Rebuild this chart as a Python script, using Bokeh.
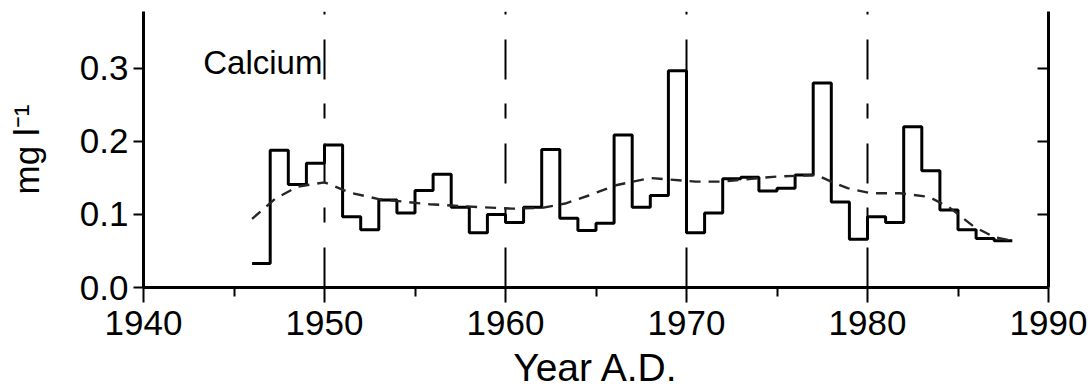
from bokeh.plotting import figure
from bokeh.models import LinearAxis, FixedTicker, Range1d, Label, PrintfTickFormatter
from bokeh.embed import file_html
from bokeh.resources import INLINE

# ---- data ----
year_edges = list(range(1946, 1989))  # annual bins 1946..1988
calcium = [0.033, 0.188, 0.141, 0.170, 0.195, 0.097, 0.079, 0.120, 0.102, 0.133,
           0.155, 0.110, 0.075, 0.100, 0.089, 0.110, 0.189, 0.095, 0.078, 0.088,
           0.209, 0.110, 0.126, 0.297, 0.075, 0.102, 0.149, 0.151, 0.132, 0.136,
           0.154, 0.280, 0.117, 0.066, 0.097, 0.089, 0.220, 0.160, 0.106, 0.079,
           0.067, 0.064]
trend_year = [1946.0, 1947.3, 1948.5, 1950.0, 1951.4, 1953.0, 1955.8, 1958.6, 1960.4,
              1962.0, 1963.3, 1964.6, 1966.1, 1968.0, 1970.5, 1972.0, 1973.6, 1975.0,
              1977.2, 1978.0, 1978.9, 1980.2, 1981.8, 1983.4, 1984.5, 1985.9, 1987.0,
              1988.0]
trend = [0.094, 0.122, 0.138, 0.144, 0.130, 0.121, 0.114, 0.110, 0.108,
         0.109, 0.115, 0.126, 0.140, 0.150, 0.145, 0.145, 0.149, 0.152,
         0.154, 0.145, 0.136, 0.129, 0.129, 0.124, 0.110, 0.083, 0.069,
         0.064]
x_major = [1940, 1950, 1960, 1970, 1980, 1990]
x_minor = [1945, 1955, 1965, 1975, 1985]
grid_years = [1950, 1960, 1970, 1980]
y_major = [0.0, 0.1, 0.2, 0.3]
series_label = "Calcium"
x_title = "Year A.D."
y_title = "mg l\u207b\u00b9"

FONT = "Liberation Sans"

p = figure(width=1091, height=392, x_range=Range1d(1940, 1990), y_range=Range1d(0, 0.378),
           output_backend="svg", toolbar_location=None,
           min_border_left=143, min_border_right=43, min_border_top=11, min_border_bottom=105)
p.outline_line_color = None
p.background_fill_color = "white"
p.border_fill_color = "white"

# x axis
xa = p.xaxis[0]
xa.ticker = FixedTicker(ticks=x_major, minor_ticks=x_minor)
xa.major_tick_out = 15
xa.major_tick_in = 0
xa.minor_tick_out = 9
xa.minor_tick_in = 0
xa.axis_line_width = 3
xa.major_tick_line_width = 2
xa.minor_tick_line_width = 2
xa.major_label_text_font = FONT
xa.major_label_text_font_size = "35px"
xa.major_label_text_color = "black"
xa.major_label_standoff = 8
xa.axis_label = x_title
xa.axis_label_text_font = FONT
xa.axis_label_text_font_size = "39px"
xa.axis_label_text_font_style = "normal"
xa.axis_label_text_color = "black"
xa.axis_label_standoff = 8

# y axis
ya = p.yaxis[0]
ya.ticker = FixedTicker(ticks=y_major)
ya.formatter = PrintfTickFormatter(format="%.1f")
ya.major_tick_out = 10
ya.major_tick_in = 0
ya.minor_tick_out = 0
ya.minor_tick_in = 0
ya.axis_line_width = 3
ya.major_tick_line_width = 2
ya.major_label_text_font = FONT
ya.major_label_text_font_size = "35px"
ya.major_label_text_color = "black"
ya.major_label_standoff = 5
ya.axis_label = y_title
ya.axis_label_text_font = FONT
ya.axis_label_text_font_size = "35px"
ya.axis_label_text_font_style = "normal"
ya.axis_label_text_color = "black"
ya.axis_label_standoff = 31

# right axis (frame side with inward ticks, no labels)
ra = LinearAxis(ticker=FixedTicker(ticks=y_major[1:]), major_tick_in=11, major_tick_out=0,
                minor_tick_in=0, minor_tick_out=0, axis_line_width=3,
                major_tick_line_width=2, major_label_text_color=None)
p.add_layout(ra, "right")

# grid
p.xgrid.ticker = FixedTicker(ticks=grid_years)
p.xgrid.grid_line_color = "black"
p.xgrid.grid_line_width = 2
p.xgrid.grid_line_dash = "40 25 15 24"
p.ygrid.visible = False

# data
p.step(x=year_edges, y=calcium + [calcium[-1]], mode="after", line_width=3, line_color="black")
p.line(x=trend_year, y=trend, line_dash="11 8", line_width=2.4, line_color="#262626")

p.add_layout(Label(x=1943.3, y=0.308, text=series_label, text_font=FONT,
                   text_font_size="33px", text_color="black", text_baseline="alphabetic"))

open("out.html", "w").write(file_html(p, INLINE))
